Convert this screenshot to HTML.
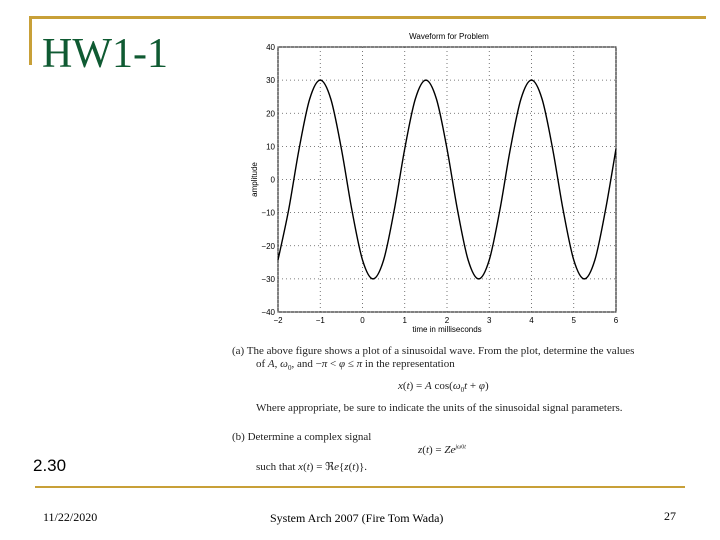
<!DOCTYPE html>
<html><head><meta charset="utf-8"><style>
body{margin:0;width:720px;height:540px;background:#fff;position:relative;overflow:hidden;font-family:"Liberation Serif",serif}
.a{position:absolute;white-space:nowrap}
.p{font-family:"Liberation Serif",serif;font-size:11px;color:#222}
</style></head><body>
<div class="a" style="left:30px;top:16px;width:676px;height:3px;background:#c8a038"></div>
<div class="a" style="left:29px;top:16px;width:3px;height:49px;background:#c8a038"></div>
<div class="a" style="left:42px;top:30px;font-size:42px;color:#0f5a32">HW1-1</div>
<div class="a" style="left:33px;top:456px;font-family:'Liberation Sans',sans-serif;font-size:17px">2.30</div>
<div class="a" style="left:35px;top:486px;width:650px;height:2px;background:#c8a038"></div>
<div class="a" style="left:43px;top:510px;font-size:12px">11/22/2020</div>
<div class="a" style="left:270px;top:511px;font-size:12px">System Arch 2007 (Fire Tom Wada)</div>
<div class="a" style="left:664px;top:509px;font-size:12px">27</div>

<svg id="chart" class="a" style="left:0;top:0" width="720" height="540" font-family="Liberation Sans, sans-serif"></svg>

<div class="a p" style="left:232px;top:345px">(a) The above figure shows a plot of a sinusoidal wave. From the plot, determine the values</div>
<div class="a p" style="left:256px;top:358px">of <i>A</i>, <i>ω</i><sub style="font-size:7px">0</sub>, and −<i>π</i> &lt; <i>φ</i> ≤ <i>π</i> in the representation</div>
<div class="a p" style="left:398px;top:380px"><i>x</i>(<i>t</i>) = <i>A</i> cos(<i>ω</i><sub style="font-size:7px">0</sub><i>t</i> + <i>φ</i>)</div>
<div class="a p" style="left:256px;top:402px">Where appropriate, be sure to indicate the units of the sinusoidal signal parameters.</div>
<div class="a p" style="left:232px;top:431px">(b) Determine a complex signal</div>
<div class="a p" style="left:418px;top:444px"><i>z</i>(<i>t</i>) = <i>Ze</i><sup style="font-size:6px"><i>jω</i>0<i>t</i></sup></div>
<div class="a p" style="left:256px;top:460px">such that <i>x</i>(<i>t</i>) = ℜ<i>e</i>{<i>z</i>(<i>t</i>)}.</div>

<script>
const xTicks=[-2,-1,0,1,2,3,4,5,6];
const yTicks=[-40,-30,-20,-10,0,10,20,30,40];
const timeMs=[-2,-1.75,-1.5,-1.25,-1,-0.75,-0.5,-0.25,0,0.25,0.5,0.75,1,1.25,1.5,1.75,2,2.25,2.5,2.75,3,3.25,3.5,3.75,4,4.25,4.5,4.75,5,5.25,5.5,5.75,6];
const amplitude=[-24.3,-9.3,9.3,24.3,30,24.3,9.3,-9.3,-24.3,-30,-24.3,-9.3,9.3,24.3,30,24.3,9.3,-9.3,-24.3,-30,-24.3,-9.3,9.3,24.3,30,24.3,9.3,-9.3,-24.3,-30,-24.3,-9.3,9.3];
const svg=document.getElementById('chart');const NS='http://www.w3.org/2000/svg';
const L=278,R=616,T=47,B=312;
const sx=v=>L+(v-xTicks[0])/(xTicks[xTicks.length-1]-xTicks[0])*(R-L);
const sy=v=>B-(v-yTicks[0])/(yTicks[yTicks.length-1]-yTicks[0])*(B-T);
function mk(t,a){const e=document.createElementNS(NS,t);for(const k in a)e.setAttribute(k,a[k]);svg.appendChild(e);return e;}
let e=mk('rect',{x:L,y:T,width:R-L,height:B-T,fill:'none',stroke:'#000','stroke-width':1});


xTicks.forEach(v=>{const x=sx(v);
 const g=mk('line',{x1:x,x2:x,y1:T,y2:B,stroke:'#555','stroke-dasharray':'1,3','stroke-width':0.8});
 
 
 const t=mk('text',{x:x,y:B+11,'font-size':8,'text-anchor':'middle'});t.textContent=v<0?'\u2212'+(-v):v;
 
 });
yTicks.forEach(v=>{const y=sy(v);
 const g=mk('line',{x1:L,x2:R,y1:y,y2:y,stroke:'#555','stroke-dasharray':'1,3','stroke-width':0.8});
 
 
 const t=mk('text',{x:L-3,y:y+3,'font-size':8,'text-anchor':'end'});t.textContent=v<0?'\u2212'+(-v):v;
 
 });
const pts=timeMs.map((t,i)=>[sx(t),sy(amplitude[i])]);
let d='M'+pts[0][0]+','+pts[0][1];
for(let i=0;i<pts.length-1;i++){const p0=pts[Math.max(0,i-1)],p1=pts[i],p2=pts[i+1],p3=pts[Math.min(pts.length-1,i+2)];
 d+=' C'+(p1[0]+(p2[0]-p0[0])/6)+','+(p1[1]+(p2[1]-p0[1])/6)+' '+(p2[0]-(p3[0]-p1[0])/6)+','+(p2[1]-(p3[1]-p1[1])/6)+' '+p2[0]+','+p2[1];}
e=mk('path',{d:d,fill:'none',stroke:'#000','stroke-width':1.4});


e=mk('text',{x:(L+R)/2+2,y:T-8,'font-size':8,'text-anchor':'middle'});e.textContent='Waveform for Problem';


e=mk('text',{x:(L+R)/2,y:B+20,'font-size':8,'text-anchor':'middle'});e.textContent='time in milliseconds';


e=mk('text',{x:257,y:(T+B)/2,'font-size':8,'text-anchor':'middle',transform:'rotate(-90 257 '+((T+B)/2)+')'});e.textContent='amplitude';


</script>
</body></html>
